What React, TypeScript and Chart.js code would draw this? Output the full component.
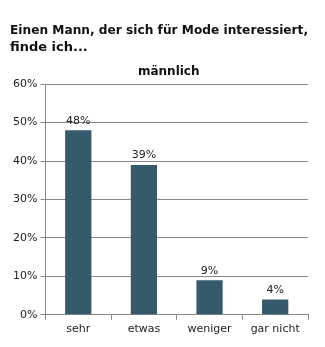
import React, { useEffect, useRef } from "react";
import { Chart, registerables } from "chart.js";

Chart.register(...registerables);

const categories = ["sehr", "etwas", "weniger", "gar nicht"];
const values = [48, 39, 9, 4];
const yTicks = [0, 10, 20, 30, 40, 50, 60];
const titleLines = ["Einen Mann, der sich für Mode interessiert,", "finde ich..."];
const subtitleText = "männlich";

const valueLabels = {
  id: "valueLabels",
  afterDatasetsDraw(chart: any) {
    const ctx = chart.ctx;
    const meta = chart.getDatasetMeta(0);
    ctx.save();
    ctx.font = "11px 'DejaVu Sans'";
    ctx.fillStyle = "#222";
    ctx.textAlign = "center";
    ctx.textBaseline = "bottom";
    meta.data.forEach((bar: any, i: number) => {
      ctx.fillText(values[i] + "%", bar.x, bar.y - 4);
    });
    ctx.restore();
  },
};

const subtitleDraw = {
  id: "subtitleDraw",
  afterDraw(chart: any) {
    const ctx = chart.ctx;
    const area = chart.chartArea;
    ctx.save();
    ctx.font = "bold 12px 'DejaVu Sans'";
    ctx.fillStyle = "#111";
    ctx.textAlign = "center";
    ctx.textBaseline = "bottom";
    ctx.fillText(subtitleText, (area.left + area.right) / 2 - 8, area.top - 6);
    ctx.restore();
  },
};

export default function App() {
  const ref = useRef<HTMLCanvasElement>(null);
  useEffect(() => {
    if (!ref.current) return;
    const chart = new Chart(ref.current, {
      type: "bar",
      data: {
        labels: categories,
        datasets: [
          {
            data: values,
            backgroundColor: "#355a6b",
            barPercentage: 0.4,
            categoryPercentage: 1,
          },
        ],
      },
      options: {
        animation: false,
        responsive: true,
        maintainAspectRatio: false,
        layout: { padding: { top: 14, left: 2, right: 9, bottom: 0 } },
        plugins: {
          legend: { display: false },
          tooltip: { enabled: false },
          title: {
            display: true,
            text: titleLines,
            align: "start",
            color: "#111",
            font: { family: "'DejaVu Sans'", size: 13, weight: "bold", lineHeight: 1.3 },
            padding: { top: 0, bottom: 6 },
          },
          subtitle: {
            display: true,
            text: subtitleText,
            color: "rgba(0,0,0,0)",
            font: { family: "'DejaVu Sans'", size: 12, weight: "bold" },
            padding: { top: 0, bottom: 8 },
          },
        },
        scales: {
          x: {
            grid: { offset: true, drawOnChartArea: false, color: "#888", tickLength: 5 },
            border: { color: "#888" },
            ticks: { color: "#222", font: { family: "'DejaVu Sans'", size: 11 }, padding: 3 },
          },
          y: {
            min: 0,
            max: 60,
            afterBuildTicks: (axis: any) => {
              axis.ticks = yTicks.map((v) => ({ value: v }));
            },
            grid: { color: "#888", tickLength: 5 },
            border: { color: "#888" },
            ticks: {
              color: "#222",
              font: { family: "'DejaVu Sans'", size: 11 },
              padding: 3,
              callback: (v: any) => v + "%",
            },
          },
        },
      },
      plugins: [valueLabels, subtitleDraw],
    });
    return () => chart.destroy();
  }, []);
  return (
    <div style={{ width: "309px", height: "331px", position: "relative" }}>
      <canvas ref={ref} />
    </div>
  );
}
